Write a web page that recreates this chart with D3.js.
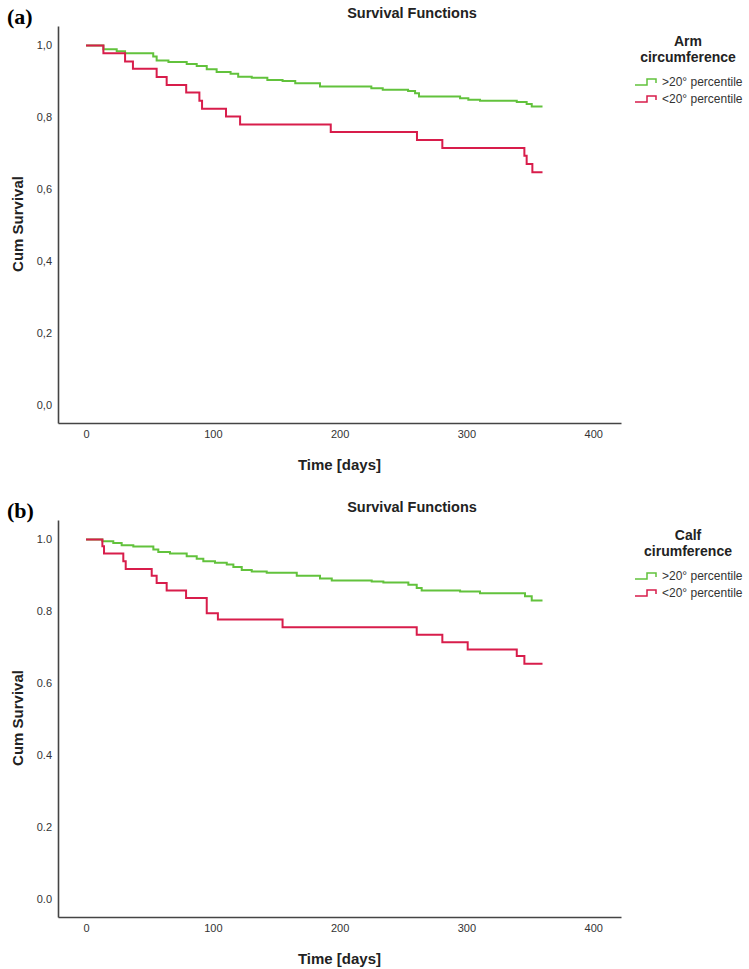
<html>
<head>
<meta charset="utf-8">
<script src="https://cdn.jsdelivr.net/npm/d3@7"></script>
<style>
  body { margin: 0; background: #fff; }
  svg text { font-family: "Liberation Sans", Arial, sans-serif; }
</style>
</head>
<body>
<svg width="749" height="969"></svg>
<script type="text/javascript">
// ---- data ----
// panel (a): arm circumference
var armHighTime = [0, 13.7, 24.2, 30.8, 53, 55.7, 65, 79.4, 87.3, 95.2, 103, 114, 120, 130.7, 143, 155, 165, 184.5, 225, 234, 254, 259.5, 262.6, 295, 301.5, 310.7, 339.7, 347.5, 351.5, 360];
var armHighSurv = [1.0, 0.989, 0.984, 0.978, 0.969, 0.958, 0.954, 0.948, 0.943, 0.934, 0.926, 0.921, 0.913, 0.910, 0.904, 0.901, 0.895, 0.886, 0.881, 0.877, 0.873, 0.867, 0.858, 0.853, 0.849, 0.846, 0.843, 0.837, 0.830, 0.830];
var armLowTime = [0, 13.7, 30.8, 37, 55.7, 63.6, 79, 89.4, 91.5, 110.4, 121.5, 193, 261, 281, 345.7, 347.5, 352, 360];
var armLowSurv = [1.0, 0.978, 0.955, 0.935, 0.912, 0.890, 0.869, 0.846, 0.824, 0.802, 0.780, 0.759, 0.737, 0.715, 0.693, 0.670, 0.647, 0.647];

// panel (b): calf circumference
var calfHighTime = [0, 12.9, 21.5, 28.1, 37.3, 53.1, 57, 66.2, 79.4, 87.3, 92.5, 101.7, 111, 116.2, 122.8, 130.7, 142.5, 166.2, 184.5, 193.8, 225.3, 234.5, 254.2, 260.8, 264.7, 295, 310.7, 346.2, 351.5, 360];
var calfHighSurv = [1.0, 0.995, 0.990, 0.984, 0.980, 0.972, 0.965, 0.961, 0.953, 0.946, 0.939, 0.935, 0.930, 0.923, 0.915, 0.911, 0.907, 0.899, 0.891, 0.886, 0.883, 0.880, 0.874, 0.865, 0.858, 0.855, 0.850, 0.842, 0.830, 0.830];
var calfLowTime = [0, 12.9, 14.2, 29.4, 31.3, 51.8, 55.7, 63.6, 78.9, 95.2, 104, 155, 260.8, 281, 301, 339.7, 345.7, 360];
var calfLowSurv = [1.0, 0.981, 0.961, 0.939, 0.918, 0.899, 0.879, 0.858, 0.837, 0.795, 0.777, 0.756, 0.735, 0.714, 0.694, 0.676, 0.654, 0.654];

var xTicks = [0, 100, 200, 300, 400];
var yTicks = [0, 0.2, 0.4, 0.6, 0.8, 1.0];
var groupLabels = [">20° percentile", "<20° percentile"];
var groupColors = ["#62c23c", "#d81d4b"];

var panels = [
    {tag: "(a)", legendTitle: ["Arm", "circumference"], decimal: ",",
     series: [[armHighTime, armHighSurv], [armLowTime, armLowSurv]]},
    {tag: "(b)", legendTitle: ["Calf", "cirumference"], decimal: ".",
     series: [[calfHighTime, calfHighSurv], [calfLowTime, calfLowSurv]]}
];

var svg = d3.select("svg");

// shared scales (each panel is translated down)
var x = d3.scaleLinear().domain([-22.1, 421.9]).range([58, 621]);
var y = d3.scaleLinear().domain([-0.05, 1.054]).range([423, 26]);

var line = d3.line()
    .x(function(d) { return x(d[0]); })
    .y(function(d) { return y(d[1]); })
    .curve(d3.curveStepAfter);

panels.forEach(function(p, i) {
    var g = svg.append("g").attr("transform", "translate(0," + (i * 494) + ")");

    g.append("text")
        .attr("x", 7).attr("y", 24)
        .style("font-family", "'Liberation Serif', 'Times New Roman', serif")
        .style("font-weight", "bold").style("font-size", "22px")
        .text(p.tag);

    g.append("text")
        .attr("x", 412).attr("y", 18)
        .attr("text-anchor", "middle")
        .style("font-weight", "bold").style("font-size", "14.5px").style("fill", "#222")
        .text("Survival Functions");

    // axes
    var fmt = function(d) { return d3.format(".1f")(d).replace(".", p.decimal); };
    var yAxis = g.append("g")
        .attr("transform", "translate(58,0)")
        .call(d3.axisLeft(y).tickValues(yTicks).tickSize(0).tickPadding(6).tickFormat(fmt));
    var xAxis = g.append("g")
        .attr("transform", "translate(0,423)")
        .call(d3.axisBottom(x).tickValues(xTicks).tickSize(0).tickPadding(7));
    [xAxis, yAxis].forEach(function(a) {
        a.select(".domain").attr("stroke", "#444").attr("stroke-width", 1.6);
        a.selectAll("text").style("font-size", "11px").style("fill", "#333")
            .style("font-family", "'Liberation Sans', Arial, sans-serif");
    });

    g.append("text")
        .attr("x", 339.5).attr("y", 470)
        .attr("text-anchor", "middle")
        .style("font-weight", "bold").style("font-size", "15px").style("fill", "#222")
        .text("Time [days]");

    g.append("text")
        .attr("transform", "translate(23,224) rotate(-90)")
        .attr("text-anchor", "middle")
        .style("font-weight", "bold").style("font-size", "15px").style("fill", "#222")
        .text("Cum Survival");

    // survival curves
    p.series.forEach(function(s, k) {
        var pts = s[0].map(function(t, j) { return [t, s[1][j]]; });
        g.append("path")
            .datum(pts)
            .attr("fill", "none")
            .attr("stroke", groupColors[k])
            .attr("stroke-width", 2)
            .attr("d", line);
    });

    // legend
    var lg = g.append("g");
    lg.selectAll(".lt").data(p.legendTitle).enter()
        .append("text")
        .attr("x", 688).attr("y", function(d, j) { return 46 + j * 16; })
        .attr("text-anchor", "middle")
        .style("font-weight", "bold").style("font-size", "14px").style("fill", "#222")
        .text(function(d) { return d; });
    groupLabels.forEach(function(lab, k) {
        var ly = 82 + k * 17;
        lg.append("path")
            .attr("d", "M635," + (ly + 3) + "H647V" + (ly - 3) + "H656V" + (ly + 1))
            .attr("fill", "none").attr("stroke", groupColors[k]).attr("stroke-width", 1.5);
        lg.append("text")
            .attr("x", 662).attr("y", ly + 4)
            .style("font-size", "12px").style("fill", "#333")
            .text(lab);
    });
});
</script>
</body>
</html>
